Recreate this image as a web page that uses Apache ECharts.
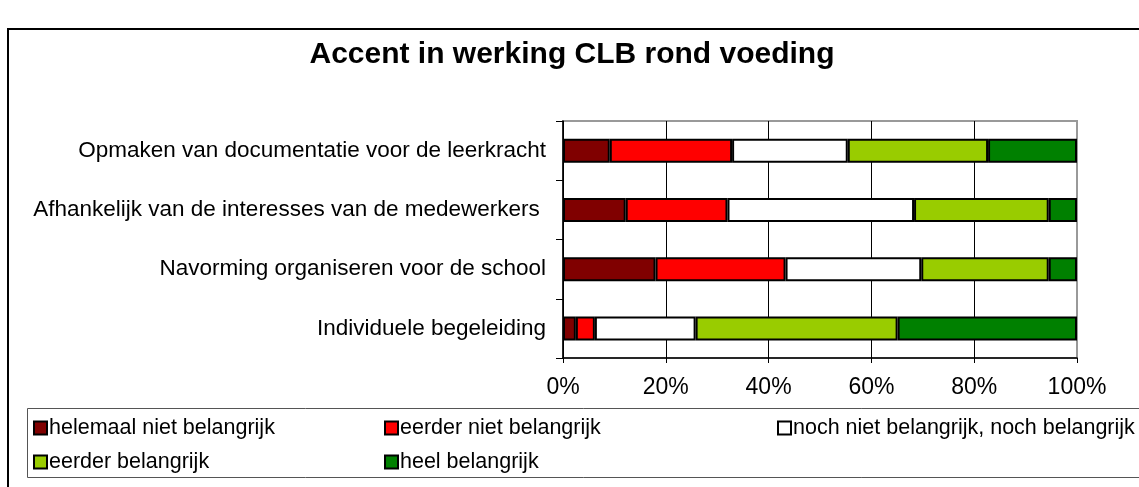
<!DOCTYPE html>
<html>
<head>
<meta charset="utf-8">
<script src="https://cdn.jsdelivr.net/npm/echarts@6/dist/echarts.min.js"></script>
<style>
  html, body { margin: 0; padding: 0; background: #fff; }
  #chart { width: 1139px; height: 487px; }
</style>
</head>
<body>
<div id="chart"></div>
<script>
// Activities, listed top to bottom
const categories = [
  'Opmaken van documentatie voor de leerkracht',
  'Afhankelijk van de interesses van de medewerkers ',
  'Navorming organiseren voor de school',
  'Individuele begeleiding'
];

// Share of answers per category (%)
const helemaalNiet = [9.1, 12.2, 18.0, 2.5];
const eerderNiet   = [23.8, 19.8, 25.3, 3.7];
const noch         = [22.5, 36.3, 26.4, 19.6];
const eerder       = [27.3, 26.2, 24.8, 39.3];
const heel         = [17.3, 5.5, 5.5, 34.9];

const seriesNames = [
  'helemaal niet belangrijk',
  'eerder niet belangrijk',
  'noch niet belangrijk, noch belangrijk',
  'eerder belangrijk',
  'heel belangrijk'
];
const seriesData = [helemaalNiet, eerderNiet, noch, eerder, heel];
const seriesColors = ['#800000', '#ff0000', '#ffffff', '#99cc00', '#008000'];

const FONT = 'Liberation Sans, Arial, sans-serif';

const chart = echarts.init(document.getElementById('chart'), null, { renderer: 'canvas' });

// one legend block per entry, laid out as a two-row table
const legendSlots = [
  { left: 33, top: 417 },
  { left: 384, top: 417 },
  { left: 777, top: 417 },
  { left: 33, top: 451 },
  { left: 384, top: 451 }
];

const option = {
  animation: false,
  backgroundColor: '#ffffff',
  title: {
    text: 'Accent in werking CLB rond voeding',
    left: 567,
    textAlign: 'center',
    top: 35,
    textStyle: { fontFamily: FONT, fontSize: 30, fontWeight: 'bold', color: '#000' }
  },
  graphic: [
    {
      type: 'rect',
      shape: { x: 8, y: 29, width: 1200, height: 500 },
      style: { fill: 'none', stroke: '#000', lineWidth: 2 },
      z: -1
    },
    {
      type: 'rect',
      shape: { x: 27.5, y: 408.5, width: 1200, height: 69 },
      style: { fill: 'none', stroke: '#555', lineWidth: 1 },
      z: -1
    }
  ],
  legend: legendSlots.map((p, i) => ({
    data: [seriesNames[i]],
    left: p.left,
    top: p.top,
    icon: 'rect',
    itemWidth: 13,
    itemHeight: 13,
    itemGap: 4,
    padding: 0,
    selectedMode: false,
    textStyle: { fontFamily: FONT, fontSize: 21.5, color: '#000', padding: [0, 0, 0, -3] }
  })),
  grid: {
    left: 563,
    top: 121,
    width: 514,
    height: 237,
    show: true,
    borderColor: '#999',
    borderWidth: 2,
    backgroundColor: 'transparent'
  },
  xAxis: {
    type: 'value',
    min: 0,
    max: 100,
    interval: 20,
    axisLine: { show: true, lineStyle: { color: '#000', width: 1.5 } },
    axisTick: { show: true, length: 5, lineStyle: { color: '#000' } },
    axisLabel: {
      formatter: '{value}%',
      fontFamily: FONT,
      fontSize: 23,
      color: '#000',
      margin: 18
    },
    splitLine: {
      show: true,
      lineStyle: { color: ['#000', '#000', '#000', '#000', '#000', '#999'], width: 1 }
    }
  },
  yAxis: {
    type: 'category',
    inverse: true,
    data: categories,
    axisLine: { show: true, lineStyle: { color: '#000', width: 1.5 } },
    axisTick: { show: true, length: 7, lineStyle: { color: '#000' } },
    axisLabel: {
      fontFamily: FONT,
      fontSize: 22.5,
      color: '#000',
      margin: 17
    },
    splitLine: { show: false }
  },
  series: seriesNames.map((name, i) => ({
    name: name,
    type: 'bar',
    stack: 'total',
    barWidth: 24,
    data: seriesData[i],
    itemStyle: { color: seriesColors[i], borderColor: '#000', borderWidth: 2 },
    emphasis: { disabled: true }
  }))
};

chart.setOption(option);
</script>
</body>
</html>
